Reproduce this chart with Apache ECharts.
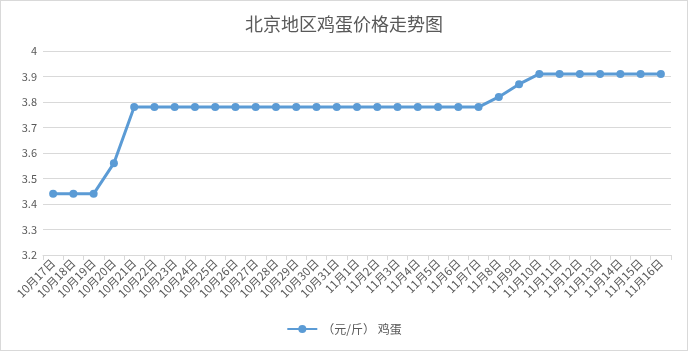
<!DOCTYPE html>
<html>
<head>
<meta charset="utf-8">
<script src="https://cdn.jsdelivr.net/npm/echarts@6/dist/echarts.min.js"></script>
<style>
html,body{margin:0;padding:0;background:#fff;}
#main{width:688px;height:351px;box-sizing:border-box;border:1px solid #d9d9d9;}
</style>
</head>
<body>
<div id="main"></div>
<script>
var days = ['10月17日','10月18日','10月19日','10月20日','10月21日','10月22日','10月23日','10月24日','10月25日','10月26日','10月27日','10月28日','10月29日','10月30日','10月31日',
	'11月1日','11月2日','11月3日','11月4日','11月5日','11月6日','11月7日','11月8日','11月9日','11月10日','11月11日','11月12日','11月13日','11月14日','11月15日','11月16日'];
var eggPrice = [3.44,3.44,3.44,3.56,3.78,3.78,3.78,3.78,3.78,3.78,3.78,3.78,3.78,3.78,3.78,
	3.78,3.78,3.78,3.78,3.78,3.78,3.78,3.82,3.87,3.91,3.91,3.91,3.91,3.91,3.91,3.91];
var seriesName = '（元/斤） 鸡蛋';

var chart = echarts.init(document.getElementById('main'));
var font = '"Noto Sans CJK SC", "Microsoft YaHei", sans-serif';
chart.setOption({
	animation: false,
	backgroundColor: '#fff',
	textStyle: { fontFamily: font },
	title: {
		text: '北京地区鸡蛋价格走势图',
		left: 'center',
		top: 9,
		textStyle: { fontSize: 18, fontWeight: 'normal', color: '#595959', fontFamily: font }
	},
	grid: { left: 42, right: 16, top: 50, bottom: 95 },
	legend: {
		bottom: 10,
		left: 'center',
		itemWidth: 30,
		itemHeight: 10,
		itemGap: 4,
		textStyle: { color: '#595959', fontSize: 12 },
		data: [seriesName]
	},
	xAxis: {
		type: 'category',
		data: days,
		boundaryGap: true,
		axisLine: { lineStyle: { color: '#d9d9d9' } },
		axisTick: { show: true, lineStyle: { color: '#d9d9d9' }, length: 5 },
		axisLabel: { rotate: 45, interval: 0, color: '#595959', fontSize: 11.5, margin: 6 }
	},
	yAxis: {
		type: 'value',
		min: 3.2,
		max: 4,
		interval: 0.1,
		axisLine: { show: false },
		axisTick: { show: false },
		axisLabel: {
			color: '#595959', fontSize: 11, margin: 6,
			formatter: function (v) { return String(Math.round(v * 10) / 10); }
		},
		splitLine: { lineStyle: { color: '#d9d9d9' } }
	},
	series: [{
		name: seriesName,
		type: 'line',
		data: eggPrice,
		symbol: 'circle',
		symbolSize: 8,
		lineStyle: { color: '#5b9bd5', width: 3 },
		itemStyle: { color: '#5b9bd5' }
	}]
});
</script>
</body>
</html>
